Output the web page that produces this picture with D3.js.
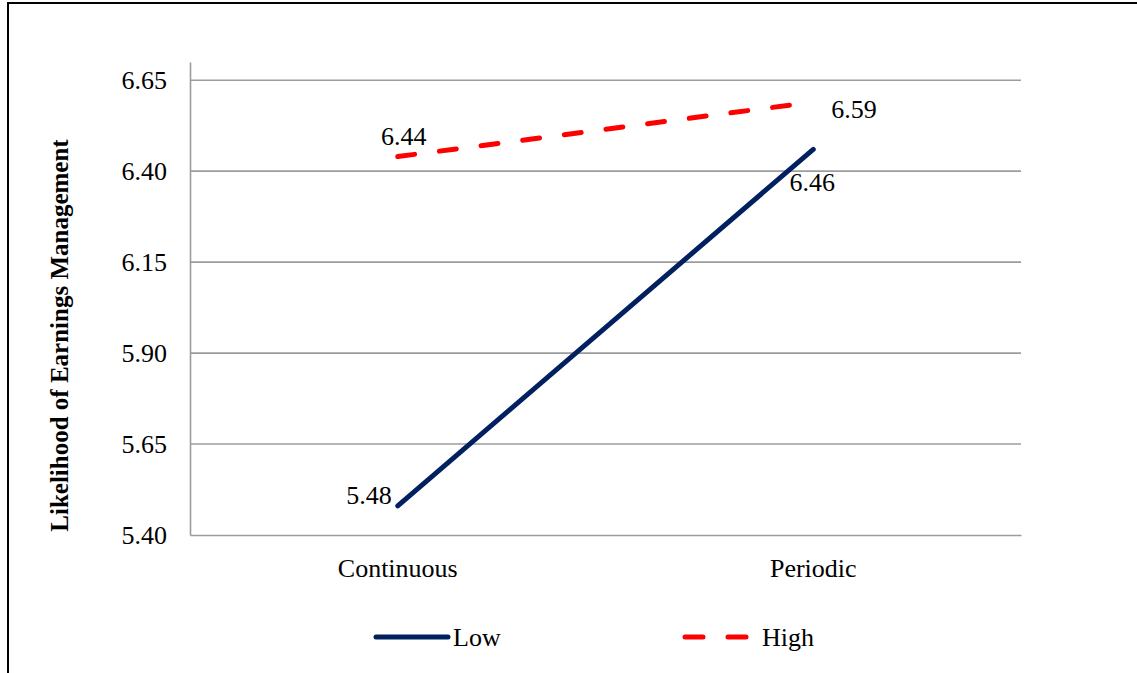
<!DOCTYPE html>
<html>
<head>
<meta charset="utf-8">
<script src="https://cdn.jsdelivr.net/npm/d3@7"></script>
<style>
  html, body { margin: 0; padding: 0; background: #fff; }
  svg { display: block; }
  svg text { font-family: "Liberation Serif", "Times New Roman", serif !important; fill: #000; }
</style>
</head>
<body>
<svg id="chart" width="1137" height="673"></svg>
<script>
// Conditions on the x axis
const categories = ["Continuous", "Periodic"];
// Series names and their values per condition
const seriesNames = ["Low", "High"];
const lowValues = [5.48, 6.46];
const highValues = [6.44, 6.59];
// Y axis tick values
const yTicks = [5.40, 5.65, 5.90, 6.15, 6.40, 6.65];
const yTitle = "Likelihood of Earnings Management";

const svg = d3.select("#chart");
const W = 1137, H = 673;
const plot = { left: 190, right: 1021, top: 62, bottom: 535 };
const serif = "'Liberation Serif', 'Times New Roman', serif";

// outer frame (top and left edges visible)
svg.append("rect")
  .attr("x", 8).attr("y", 3)
  .attr("width", W + 20).attr("height", H + 20)
  .attr("fill", "none").attr("stroke", "#000").attr("stroke-width", 2);

const x = d3.scaleBand().domain(categories).range([plot.left, plot.right]);
const y = d3.scaleLinear().domain([5.40, 6.70]).range([plot.bottom, plot.top]);

// gridlines
svg.append("g").selectAll("line").data(yTicks.slice(1)).join("line")
  .attr("x1", plot.left).attr("x2", plot.right)
  .attr("y1", d => y(d)).attr("y2", d => y(d))
  .attr("stroke", "#9c9c9c").attr("stroke-width", 1.6);

// y axis
const yAxis = svg.append("g").attr("transform", `translate(${plot.left},0)`)
  .call(d3.axisLeft(y).tickValues(yTicks).tickFormat(d3.format(".2f")).tickSize(0).tickPadding(23));
yAxis.attr("font-family", serif);
yAxis.select(".domain").attr("stroke", "#9c9c9c").attr("stroke-width", 1.6);
yAxis.selectAll("text").attr("font-size", 26).style("font-family", serif).attr("fill", "#000");

// x axis
const xAxis = svg.append("g").attr("transform", `translate(0,${plot.bottom})`)
  .call(d3.axisBottom(x).tickSize(0).tickPadding(24));
xAxis.attr("font-family", serif);
xAxis.select(".domain").attr("stroke", "#9c9c9c").attr("stroke-width", 1.6);
xAxis.selectAll("text").attr("font-size", 26).style("font-family", serif).attr("fill", "#000");

// y axis title
svg.append("text")
  .attr("transform", `translate(68,${(138 + 533) / 2}) rotate(-90)`)
  .attr("text-anchor", "middle")
  .attr("font-size", 25).attr("font-weight", "bold")
  .style("font-family", serif)
  .text(yTitle);

const cx = c => x(c) + x.bandwidth() / 2;
const line = d3.line().x(d => cx(d.c)).y(d => y(d.v));
const lowPts = categories.map((c, i) => ({ c, v: lowValues[i] }));
const highPts = categories.map((c, i) => ({ c, v: highValues[i] }));

const styles = {
  Low: { color: "#002060", dash: null },
  High: { color: "#ff0000", dash: "17,25" }
};

svg.append("path").datum(lowPts).attr("d", line)
  .attr("fill", "none").attr("stroke", styles.Low.color)
  .attr("stroke-width", 5).attr("stroke-linecap", "round");
svg.append("path").datum(highPts).attr("d", line)
  .attr("fill", "none").attr("stroke", styles.High.color)
  .attr("stroke-width", 5).attr("stroke-linecap", "round")
  .attr("stroke-dasharray", styles.High.dash);

// data labels
const fmt = d3.format(".2f");
const lbl = (p, dx, dy, anchor) => svg.append("text")
  .attr("x", cx(p.c) + dx).attr("y", y(p.v) + dy)
  .attr("text-anchor", anchor).attr("font-size", 26)
  .style("font-family", serif).text(fmt(p.v));
lbl(lowPts[0], -6, -2, "end");
lbl(lowPts[1], -1, 42, "middle");
lbl(highPts[0], 6, -12, "middle");
lbl(highPts[1], 18, 16, "start");

// legend
const legend = svg.append("g");
const items = [
  { name: seriesNames[0], x0: 376, x1: 448, gap: 5 },
  { name: seriesNames[1], x0: 685, x1: 750, gap: 12 }
];
items.forEach(it => {
  const s = styles[it.name];
  legend.append("line")
    .attr("x1", it.x0).attr("x2", it.x1).attr("y1", 637).attr("y2", 637)
    .attr("stroke", s.color).attr("stroke-width", 5).attr("stroke-linecap", "round")
    .attr("stroke-dasharray", s.dash ? "18,25" : null);
  legend.append("text").attr("x", it.x1 + it.gap).attr("y", 646)
    .attr("font-size", 26).style("font-family", serif).text(it.name);
});
</script>
</body>
</html>
